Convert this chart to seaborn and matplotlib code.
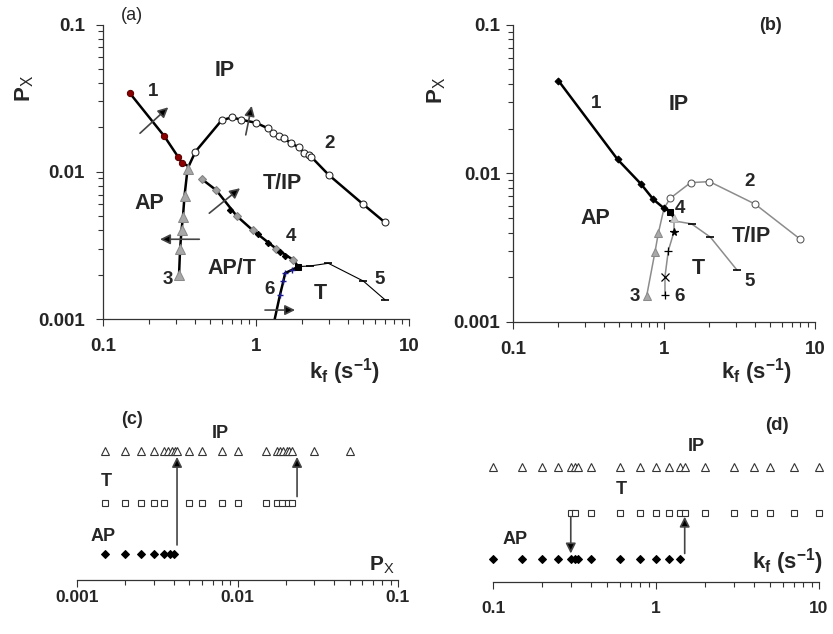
import numpy as np
import matplotlib
matplotlib.use("Agg")
import matplotlib.pyplot as plt
from matplotlib.ticker import LogLocator, NullFormatter, FixedLocator, FixedFormatter
import seaborn as sns

# ---- panel (a): kf vs Px boundaries, full model
a1_k = [0.150, 0.251, 0.309, 0.327, 0.356]
a1_p = [0.0341, 0.0175, 0.01266, 0.01153, 0.0110]
a2_k = [0.357, 0.402, 0.597, 0.697, 0.794, 1.0, 1.20, 1.29, 1.41, 1.53, 1.69, 1.90, 2.06, 2.22, 2.29, 2.99, 5.0, 6.94]
a2_p = [0.0105, 0.0137, 0.0224, 0.0234, 0.0226, 0.0215, 0.0197, 0.0184, 0.0176, 0.0169, 0.0156, 0.0147, 0.01346, 0.0130, 0.01266, 0.00951, 0.00603, 0.00454]
a3_k = [0.357, 0.341, 0.333, 0.326, 0.319, 0.314]
a3_p = [0.01045, 0.00685, 0.00493, 0.0040, 0.00299, 0.00198]
a4_k = [0.444, 0.550, 0.748, 0.951, 1.35, 1.75, 1.89]
a4_p = [0.00889, 0.00749, 0.00501, 0.00401, 0.00301, 0.00252, 0.00227]
a4b_k = [0.68, 1.03, 1.2, 1.43, 1.55]
a4b_p = [0.0055, 0.0038, 0.0033, 0.00287, 0.00268]
a5_k = [1.89, 2.25, 2.97, 5.03, 6.97]
a5_p = [0.00227, 0.00229, 0.00239, 0.00181, 0.00135]
a6_k = [1.89, 1.71, 1.55, 1.51, 1.435, 1.365, 1.32]
a6_p = [0.00227, 0.00215, 0.00205, 0.00181, 0.00146, 0.00115, 0.00098]
# arrows (k start, p start, k end, p end)
a_arrows = [(0.1745, 0.01826, 0.267, 0.0274), (0.857, 0.0178, 0.937, 0.028),
            (0.495, 0.00523, 0.786, 0.00773), (0.426, 0.00348, 0.236, 0.00348),
            (1.145, 0.00115, 1.80, 0.00115)]

# ---- panel (b): reduced model
b1_k = [0.2, 0.493, 0.704, 0.85, 1.0, 1.1]
b1_p = [0.042, 0.0124, 0.00848, 0.00668, 0.00582, 0.00553]
b2_k = [1.0, 1.1, 1.5, 2.0, 4.0, 8.0]
b2_p = [0.00582, 0.0068, 0.00866, 0.0088, 0.00622, 0.0036]
b3_k = [1.0, 0.917, 0.872, 0.768]
b3_p = [0.00582, 0.00395, 0.00297, 0.0015]
b4_k = [1.1, 1.165]
b4_p = [0.00553, 0.0050]
b5_k = [1.165, 1.15, 1.525, 2.03, 3.05]
b5_p = [0.0050, 0.0048, 0.00457, 0.00372, 0.00223]
b6_k = [1.165, 1.165, 1.068, 1.015, 1.015]
b6_p = [0.0050, 0.00405, 0.00302, 0.00202, 0.00152]
b6_marks = [None, "*", "+", "x", "+"]

# ---- panel (c): Px values sampled per regime
c_ip = [0.0015, 0.002, 0.0025, 0.003, 0.0035, 0.0037, 0.0039, 0.0041, 0.0042, 0.005, 0.006, 0.008, 0.01,
        0.015, 0.0175, 0.0184, 0.0193, 0.0202, 0.021, 0.0219, 0.03, 0.05]
c_t = [0.0015, 0.002, 0.0025, 0.003, 0.0035, 0.005, 0.006, 0.008, 0.01, 0.015, 0.0175, 0.019, 0.0205, 0.022]
c_ap = [0.0015, 0.002, 0.0025, 0.003, 0.0035, 0.0038, 0.004]
c_arrows = [(0.0042, 1.18, 2.89), (0.0235, 2.12, 2.89)]

# ---- panel (d): kf values sampled per regime
d_ip = [0.1, 0.15, 0.2, 0.25, 0.3, 0.32, 0.33, 0.4, 0.6, 0.8, 1.0, 1.2, 1.4, 1.5, 2, 3, 4, 5, 7, 10]
d_t = [0.3, 0.32, 0.4, 0.6, 0.8, 1.0, 1.2, 1.4, 1.5, 2, 3, 4, 5, 7, 10]
d_ap = [0.1, 0.15, 0.2, 0.25, 0.3, 0.32, 0.33, 0.4, 0.6, 0.8, 1.0, 1.2, 1.4]
d_arrows = [(0.3, 1.92, 1.12), (1.5, 1.12, 1.92)]

kf_ticks = [0.1, 1, 10]
kf_labels = ["0.1", "1", "10"]
px_ticks = [0.001, 0.01, 0.1]
px_labels = ["0.001", "0.01", "0.1"]

sns.set_style("ticks")
plt.rcParams["font.family"] = ["Liberation Sans", "DejaVu Sans"]
plt.rcParams["mathtext.fontset"] = "custom"
plt.rcParams["mathtext.rm"] = "Liberation Sans"
plt.rcParams["mathtext.bf"] = "Liberation Sans:bold"
plt.rcParams["mathtext.it"] = "Liberation Sans:italic"

W, H = 833, 634
fig = plt.figure(figsize=(W / 100, H / 100), dpi=100)


def box(l, t, r, b):
    return [l / W, 1 - b / H, (r - l) / W, (b - t) / H]


def put(x, y, s, size=15.5, weight="bold", **kw):
    fig.text(x / W, 1 - y / H, s, ha="center", va="center", fontsize=size, fontweight=weight, **kw)


def curve(ax, k, p, color="black", lw=1.8, **kw):
    sns.lineplot(x=k, y=p, ax=ax, sort=False, estimator=None, color=color,
                 linewidth=lw, legend=False, **kw)


def arrow(ax, x0, y0, x1, y1):
    ax.annotate("", xy=(x1, y1), xytext=(x0, y0),
                arrowprops=dict(arrowstyle="-|>", fc="black", ec="#454545", lw=1.2,
                                mutation_scale=15, shrinkA=0, shrinkB=0))


ax_a = fig.add_axes(box(103, 24.5, 409, 319))
ax_b = fig.add_axes(box(513, 24.7, 815, 322))
ax_c = fig.add_axes(box(77, 425.5, 398, 580))
ax_d = fig.add_axes(box(493, 444, 819, 582))

for ax in (ax_a, ax_b):
    ax.set_xscale("log")
    ax.set_yscale("log")

# ---- (a)
curve(ax_a, a1_k, a1_p, marker="o", markersize=4.5, markerfacecolor="#8b0000",
      markeredgecolor="#5a0000", markevery=[0, 1, 2, 3])
curve(ax_a, a2_k, a2_p, marker="o", markersize=5, markerfacecolor="white",
      markeredgecolor="#222222", markevery=list(range(1, len(a2_k))))
curve(ax_a, a4_k, a4_p, marker="D", markersize=4.5, markerfacecolor="#a0a0a0",
      markeredgecolor="#808080", markevery=list(range(len(a4_k) - 1)))
curve(ax_a, a4b_k, a4b_p, lw=0, marker="D", markersize=3.2, markerfacecolor="black",
      markeredgecolor="black")
curve(ax_a, a5_k, a5_p, lw=0.8, marker="_", markersize=6, markeredgecolor="black",
      markeredgewidth=1.2, markevery=[1, 2, 3, 4])
curve(ax_a, a6_k, a6_p, marker="+", markersize=5, markeredgecolor="#1a1a8c",
      markeredgewidth=1.0, markevery=[1, 2, 3, 4])
curve(ax_a, a3_k, a3_p, marker="^", markersize=6.5, markerfacecolor="#a8a8a8",
      markeredgecolor="#8a8a8a")
sns.lineplot(x=[a4_k[-1]], y=[a4_p[-1]], ax=ax_a, estimator=None, marker="s",
             markersize=5, color="black", markeredgecolor="black", legend=False)
for x0, y0, x1, y1 in a_arrows:
    arrow(ax_a, x0, y0, x1, y1)

# ---- (b)
curve(ax_b, b2_k, b2_p, color="#8c8c8c", lw=1.1, marker="o", markersize=5,
      markerfacecolor="white", markeredgecolor="#555555", markevery=list(range(1, len(b2_k))))
curve(ax_b, b3_k, b3_p, color="#8c8c8c", lw=1.1, marker="^", markersize=5.5,
      markerfacecolor="#a8a8a8", markeredgecolor="#8a8a8a", markevery=[1, 2, 3])
curve(ax_b, b5_k, b5_p, color="#8c8c8c", lw=1.1, marker="_", markersize=6,
      markeredgecolor="black", markeredgewidth=1.2, markevery=[1, 2, 3, 4])
curve(ax_b, b6_k, b6_p, color="#8c8c8c", lw=1.1)
for k, p, m in zip(b6_k, b6_p, b6_marks):
    if m is not None:
        sns.lineplot(x=[k], y=[p], ax=ax_b, estimator=None, marker=m, markersize=5.5,
                     color="black", markeredgecolor="black", markeredgewidth=0.9, legend=False)
curve(ax_b, b4_k, b4_p, lw=1.8, marker="^", markersize=5.5, markerfacecolor="#c8c8c8",
      markeredgecolor="#b0b0b0", markevery=[1])
curve(ax_b, b1_k, b1_p, lw=1.8, marker="D", markersize=3.5, markerfacecolor="black",
      markeredgecolor="black", markevery=list(range(len(b1_k) - 1)))
sns.lineplot(x=[b1_k[-1]], y=[b1_p[-1]], ax=ax_b, estimator=None, marker="s",
             markersize=4.5, color="black", markeredgecolor="black", legend=False)

for ax in (ax_a, ax_b):
    ax.set_xlim(0.1, 10)
    ax.set_ylim(0.001, 0.1)
    ax.xaxis.set_major_locator(FixedLocator(kf_ticks))
    ax.xaxis.set_major_formatter(FixedFormatter(kf_labels))
    ax.yaxis.set_major_locator(FixedLocator(px_ticks))
    ax.yaxis.set_major_formatter(FixedFormatter(px_labels))
    for axis in (ax.xaxis, ax.yaxis):
        axis.set_minor_locator(LogLocator(base=10, subs=np.arange(2, 10)))
        axis.set_minor_formatter(NullFormatter())
    sns.despine(ax=ax)
    for s in ("left", "bottom"):
        ax.spines[s].set_color("#333333")
        ax.spines[s].set_linewidth(0.9)
    ax.tick_params(which="major", direction="out", length=5, width=0.8, color="#333333",
                   labelsize=13.5)
    ax.tick_params(which="minor", direction="out", length=3.5, width=0.8, color="#333333")
    ax.tick_params(axis="x", which="major", pad=9)
    for lab in ax.get_xticklabels() + ax.get_yticklabels():
        lab.set_fontweight("bold")
    ax.set_xlabel("")
    ax.set_ylabel("")
ax_a.tick_params(axis="y", which="major", pad=8)
ax_b.tick_params(axis="y", which="major", pad=4)

# ---- (c) and (d): regime strips
for ax, ip, t, ap in ((ax_c, c_ip, c_t, c_ap), (ax_d, d_ip, d_t, d_ap)):
    ax.set_xscale("log")
    sns.lineplot(x=ip, y=[3] * len(ip), ax=ax, estimator=None, linestyle="none", marker="^",
                 markersize=5.5, markerfacecolor="white", markeredgecolor="#333333",
                 markeredgewidth=0.8, color="black", legend=False, clip_on=False)
    sns.lineplot(x=t, y=[2] * len(t), ax=ax, estimator=None, linestyle="none", marker="s",
                 markersize=4.8, markerfacecolor="white", markeredgecolor="#333333",
                 markeredgewidth=0.8, color="black", legend=False, clip_on=False)
    sns.lineplot(x=ap, y=[1] * len(ap), ax=ax, estimator=None, linestyle="none", marker="D",
                 markersize=4.5, markerfacecolor="black", markeredgecolor="black",
                 color="black", legend=False, clip_on=False)
    ax.set_ylim(0.5, 3.5)
    ax.set_yticks([])
    sns.despine(ax=ax, left=True)
    ax.spines["bottom"].set_color("#333333")
    ax.spines["bottom"].set_linewidth(0.9)
    ax.xaxis.set_minor_locator(LogLocator(base=10, subs=np.arange(2, 10)))
    ax.xaxis.set_minor_formatter(NullFormatter())
    ax.tick_params(which="major", direction="out", length=5, width=0.8, color="#333333",
                   labelsize=12.5)
    ax.tick_params(which="minor", direction="out", length=3.5, width=0.8, color="#333333")
    ax.set_xlabel("")
    ax.set_ylabel("")

ax_c.set_xlim(0.001, 0.1)
ax_c.xaxis.set_major_locator(FixedLocator(px_ticks))
ax_c.xaxis.set_major_formatter(FixedFormatter(px_labels))
ax_c.tick_params(axis="x", which="major", pad=2)
ax_d.set_xlim(0.1, 10)
ax_d.xaxis.set_major_locator(FixedLocator(kf_ticks))
ax_d.xaxis.set_major_formatter(FixedFormatter(kf_labels))
ax_d.tick_params(axis="x", which="major", pad=9)
for ax in (ax_c, ax_d):
    for lab in ax.get_xticklabels():
        lab.set_fontweight("bold")

for x, y0, y1 in c_arrows:
    arrow(ax_c, x, y0, x, y1)
for x, y0, y1 in d_arrows:
    arrow(ax_d, x, y0, x, y1)

# ---- texts
px_text = r"$\mathbf{P}_{\mathrm{X}}$"
kf_text = r"$\mathbf{k_f\ (s^{-1})}$"

put(131.7, 16, "(a)", size=13, weight="normal")
for s, x, y in [("IP", 225, 70), ("T/IP", 282.7, 183.3), ("AP", 149.3, 203.3),
                ("AP/T", 231.7, 268.3), ("T", 320, 293.3)]:
    put(x, y, s)
for s, x, y in [("1", 153.3, 91.7), ("2", 329.3, 144), ("4", 290.7, 236.7),
                ("3", 168.3, 280), ("5", 379.3, 279.3), ("6", 270, 290)]:
    put(x, y, s, size=13.5)

put(770, 25, "(b)", size=13)
for s, x, y in [("IP", 678.3, 105), ("AP", 595, 218.3), ("T/IP", 751.7, 236.7), ("T", 698.3, 268.3)]:
    put(x, y, s)
for s, x, y in [("1", 596, 103.3), ("2", 749.3, 181.7), ("4", 680, 208.3),
                ("5", 749.3, 281), ("3", 635, 296.7), ("6", 680, 296.7)]:
    put(x, y, s, size=13.5)

put(25, 88, px_text, size=16, rotation=90)
put(437, 90, px_text, size=16, rotation=90)
put(345, 372, kf_text, size=16)
put(757, 372, kf_text, size=16)

put(131.7, 420, "(c)", size=13)
put(220, 433, "IP", size=13)
put(106, 481.7, "T", size=13)
put(103.3, 536.7, "AP", size=13)
put(381.7, 565, px_text, size=15)

put(776.7, 425, "(d)", size=13.5)
put(696.7, 446.7, "IP", size=13)
put(621.7, 490, "T", size=13)
put(515, 540, "AP", size=13)
put(788, 562, kf_text, size=16)

fig.savefig("out.png", dpi=100)
